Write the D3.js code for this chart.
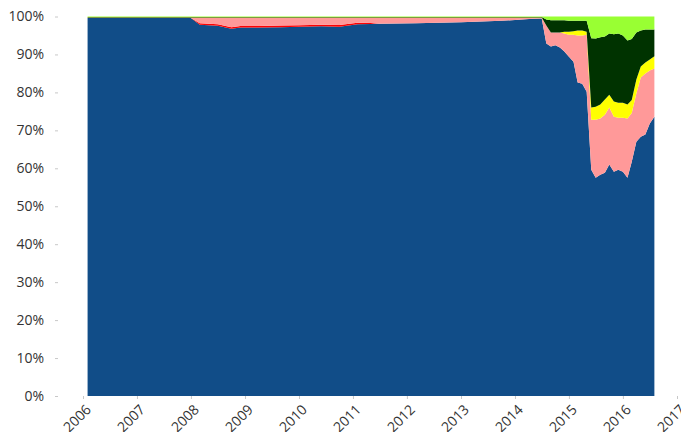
<!DOCTYPE html>
<html>
<head>
<meta charset="utf-8">
<script src="https://cdn.jsdelivr.net/npm/d3@7"></script>
<style>
  body { margin: 0; background: #fff; }
  #graphic text { font-family: "Open Sans", sans-serif; fill: #333; }
</style>
</head>
<body>
<div id="graphic"></div>
<script>
// monthly breakpoints (shares in %)
var dates = ["2006-02","2008-01","2008-03","2008-07","2008-10","2008-12","2009-04","2009-09","2010-01","2010-06","2010-10","2011-02","2011-05","2011-07","2012-03","2013-01","2013-10","2014-05","2014-07",
  "2014-08","2014-09","2014-10","2014-11","2014-12",
  "2015-01","2015-02","2015-03","2015-04","2015-05","2015-06","2015-07","2015-08","2015-09","2015-10","2015-11","2015-12",
  "2016-01","2016-02","2016-03","2016-04","2016-05","2016-06","2016-07","2016-08"];

var blue = [99.6,99.6,97.8,97.55,96.75,97.1,97.1,97.2,97.3,97.4,97.3,97.95,98.0,98.07,98.2,98.5,98.86,99.4,99.5,
  92.9,92.1,92.4,91.8,90.8,
  89.4,88.1,82.6,82.3,80.2,59.6,57.5,58.3,58.8,61.0,59.1,59.6,
  59.1,57.5,61.7,67.0,68.3,68.9,71.8,73.6];
var red = [0,0,0.4,0.4,0.45,0.4,0.4,0.4,0.4,0.4,0.45,0.4,0.3,0,0,0,0,0,0,
  0,0,0,0,0,
  0,0,0,0,0,0,0,0,0,0,0,0,
  0,0,0,0,0,0,0,0];
var pink = [0,0,1.4,1.65,2.4,2.1,2.1,2.0,1.9,1.8,1.85,1.25,1.3,1.53,1.4,1.1,0.74,0.2,0.1,
  4.7,3.7,3.4,4.0,4.7,
  5.8,7.1,12.4,12.7,15.0,13.2,15.3,14.8,15.3,15.0,14.5,13.7,
  14.2,15.6,12.9,12.7,15.6,16.1,14.0,12.7];
var yellow = [0.15,0.15,0.15,0.15,0.15,0.15,0.15,0.15,0.15,0.15,0.15,0.15,0.15,0.15,0.15,0.15,0.15,0.15,0.15,
  0,0,0,0,0.5,
  0.8,0.9,1.3,1.3,0.8,3.2,3.4,3.7,4.0,3.4,4.0,4.0,
  4.0,3.7,3.4,3.7,2.9,2.9,2.9,3.2];
var darkGreen = [0.15,0.15,0.15,0.15,0.15,0.15,0.15,0.15,0.15,0.15,0.15,0.15,0.15,0.15,0.15,0.15,0.15,0.15,0.15,
  1.6,3.2,3.2,3.2,3.0,
  2.9,2.8,2.6,2.6,2.9,18.3,18.0,17.7,16.6,16.1,17.7,18.2,
  17.7,16.9,16.1,12.4,9.5,8.7,7.9,7.1];
var lightGreen = [0.1,0.1,0.1,0.1,0.1,0.1,0.1,0.1,0.1,0.1,0.1,0.1,0.1,0.1,0.1,0.1,0.1,0.1,0.1,
  0.8,1.0,1.0,1.0,1.0,
  1.1,1.1,1.1,1.1,1.1,5.7,5.8,5.5,5.3,4.5,4.7,4.5,
  5.0,6.3,5.9,4.2,3.7,3.4,3.4,3.4];

var yearTicks = ["2006","2007","2008","2009","2010","2011","2012","2013","2014","2015","2016","2017"];
var yTicks = [0,10,20,30,40,50,60,70,80,90,100];

var keys = ["blue","red","pink","yellow","darkGreen","lightGreen"];
var colours = ["#114d88","#ff0000","#ff9999","#ffff00","#003300","#99ff33"];

var width = 681, height = 432;
var parseMonth = d3.timeParse("%Y-%m");
var parseYear = d3.timeParse("%Y");

// table for the stack
var table = dates.map(function(d, i) {
  return {date: parseMonth(d), blue: blue[i], red: red[i], pink: pink[i],
    yellow: yellow[i], darkGreen: darkGreen[i], lightGreen: lightGreen[i]};
});

var svg = d3.select('#graphic').append('svg')
  .attr('width', width)
  .attr('height', height);

var x = d3.scaleTime()
  .domain([parseYear("2006"), parseYear("2017")])
  .range([83, 677]);

var y = d3.scaleLinear()
  .domain([0, 100])
  .range([396, 16.5]);

var colour = d3.scaleOrdinal().domain(keys).range(colours);

var series = d3.stack().keys(keys)(table);

var area = d3.area()
  .x(function(d) { return x(d.data.date); })
  .y0(function(d) { return y(d[0]); })
  .y1(function(d) { return y(d[1]); });

svg.append('g')
  .selectAll('path')
  .data(series)
  .join('path')
  .attr('fill', function(d) { return colour(d.key); })
  .attr('d', area);

// y axis, sits left of the plot
var yAxis = svg.append('g')
  .attr('transform', 'translate(58,0)')
  .call(d3.axisLeft(y).tickValues(yTicks).tickSize(3).tickPadding(11)
    .tickFormat(function(d) { return d + "%"; }));
yAxis.select('.domain').remove();
yAxis.selectAll('line').attr('stroke', '#c8c8c8');
yAxis.selectAll('text').style('font-size', '14px');

// x axis with rotated year labels
var xAxis = svg.append('g')
  .attr('transform', 'translate(0,396)')
  .call(d3.axisBottom(x).tickValues(yearTicks.map(parseYear)).tickSize(3)
    .tickFormat(d3.timeFormat("%Y")));
xAxis.select('.domain').remove();
xAxis.selectAll('line').attr('stroke', '#c8c8c8');
xAxis.selectAll('text')
  .style('font-size', '14px')
  .attr('text-anchor', 'end')
  .attr('dy', '0.35em')
  .attr('transform', 'translate(5,11) rotate(-45)')
  .attr('y', 0)
  .attr('x', 0);
</script>
</body>
</html>
